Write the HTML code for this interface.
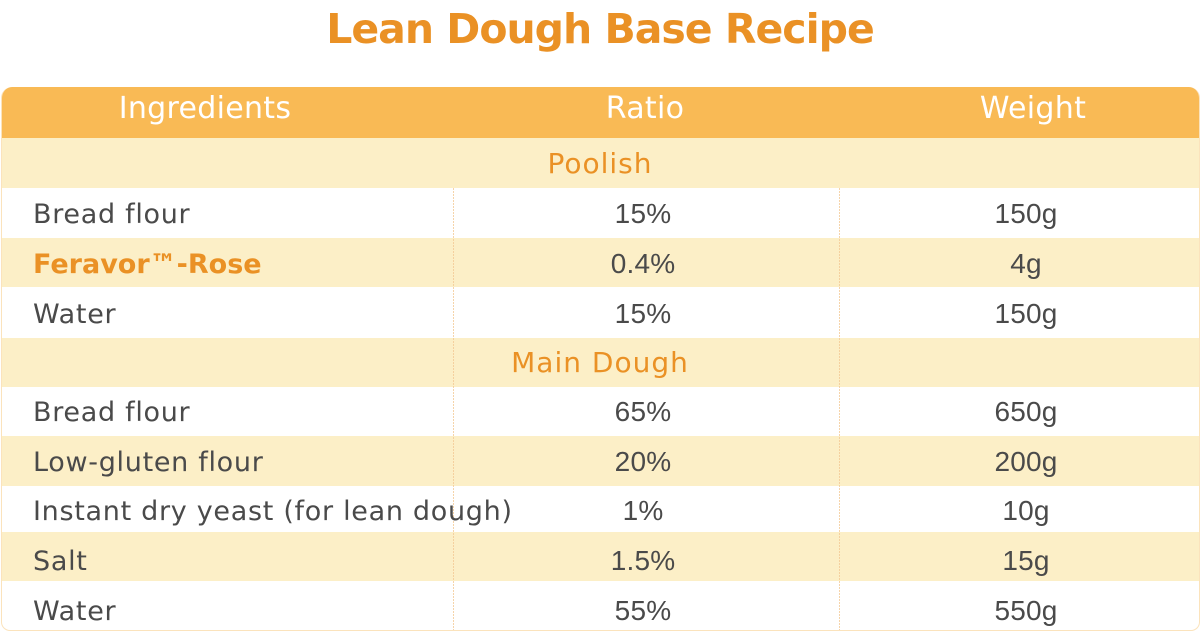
<!DOCTYPE html>
<html>
<head>
<meta charset="utf-8">
<style>
  html, body { margin:0; padding:0; background:#ffffff; }
  body { width:1200px; height:636px; position:relative; overflow:hidden;
         font-family:"DejaVu Sans","Liberation Sans",sans-serif; }
  .title { position:absolute; left:0; width:1200px; top:4px; height:50px; line-height:50px;
           text-align:center; font-weight:bold; font-size:41px; letter-spacing:-1px; color:#EA9125; }
  .table { position:absolute; left:1px; top:87px; width:1197px; height:543px;
           border:1px solid #FBE3BC; border-top:none; border-radius:11px 11px 9px 9px; overflow:hidden; background:#fff; }
  .row { position:absolute; left:0; width:1197px; }
  .hdr { background:#F9BA55; }
  .y { background:#FCEFC7; }
  .vline { position:absolute; top:101px; width:1px; height:442px;
           background:repeating-linear-gradient(to bottom, #F3C994 0px, #F3C994 2px, transparent 2px, transparent 3px); opacity:0.8; }
  .t { position:absolute; height:40px; line-height:40px; white-space:nowrap; font-size:27px; letter-spacing:0.7px; color:#4A4A4A; }
  .c { transform:translateX(-50%); }
  .n { font-family:"Liberation Sans",sans-serif; font-size:28px; letter-spacing:0.2px; margin-top:-1px; }
  .h { font-size:30px; color:#fff; letter-spacing:0.3px; }
  .sec { color:#EA9125; font-size:28px; letter-spacing:1px; }
  .b { font-weight:bold; color:#EA9125; letter-spacing:0px; }
</style>
</head>
<body>
<div class="title">Lean Dough Base Recipe</div>

<div class="table">
  <div class="row hdr" style="top:0;height:51px;"></div>
  <div class="row y" style="top:51px;height:50px;"></div>
  <div class="row y" style="top:151px;height:49px;"></div>
  <div class="row y" style="top:251px;height:49px;"></div>
  <div class="row y" style="top:349px;height:50px;"></div>
  <div class="row y" style="top:445px;height:49px;"></div>
  <div class="vline" style="left:451px;"></div>
  <div class="vline" style="left:837px;"></div>
</div>

<!-- header text -->
<div class="t h c" style="left:205px;top:89px;">Ingredients</div>
<div class="t h c" style="left:645px;top:89px;">Ratio</div>
<div class="t h c" style="left:1033px;top:89px;">Weight</div>

<!-- Poolish -->
<div class="t sec c" style="left:600px;top:143.5px;">Poolish</div>

<div class="t" style="left:33px;top:194.5px;">Bread flour</div>
<div class="t n c" style="left:643px;top:194.5px;">15%</div>
<div class="t n c" style="left:1026px;top:194.5px;">150g</div>

<div class="t b" style="left:33px;top:244.5px;">Feravor™-Rose</div>
<div class="t n c" style="left:643px;top:244.5px;">0.4%</div>
<div class="t n c" style="left:1026px;top:244.5px;">4g</div>

<div class="t" style="left:33px;top:294.5px;">Water</div>
<div class="t n c" style="left:643px;top:294.5px;">15%</div>
<div class="t n c" style="left:1026px;top:294.5px;">150g</div>

<!-- Main Dough -->
<div class="t sec c" style="left:600px;top:342.5px;">Main Dough</div>

<div class="t" style="left:33px;top:392.5px;">Bread flour</div>
<div class="t n c" style="left:643px;top:392.5px;">65%</div>
<div class="t n c" style="left:1026px;top:392.5px;">650g</div>

<div class="t" style="left:33px;top:442.5px;">Low-gluten flour</div>
<div class="t n c" style="left:643px;top:442.5px;">20%</div>
<div class="t n c" style="left:1026px;top:442.5px;">200g</div>

<div class="t" style="left:33px;top:491.5px;">Instant dry yeast (for lean dough)</div>
<div class="t n c" style="left:643px;top:491.5px;">1%</div>
<div class="t n c" style="left:1026px;top:491.5px;">10g</div>

<div class="t" style="left:33px;top:541.5px;">Salt</div>
<div class="t n c" style="left:643px;top:541.5px;">1.5%</div>
<div class="t n c" style="left:1026px;top:541.5px;">15g</div>

<div class="t" style="left:33px;top:591.5px;">Water</div>
<div class="t n c" style="left:643px;top:591.5px;">55%</div>
<div class="t n c" style="left:1026px;top:591.5px;">550g</div>

</body>
</html>
